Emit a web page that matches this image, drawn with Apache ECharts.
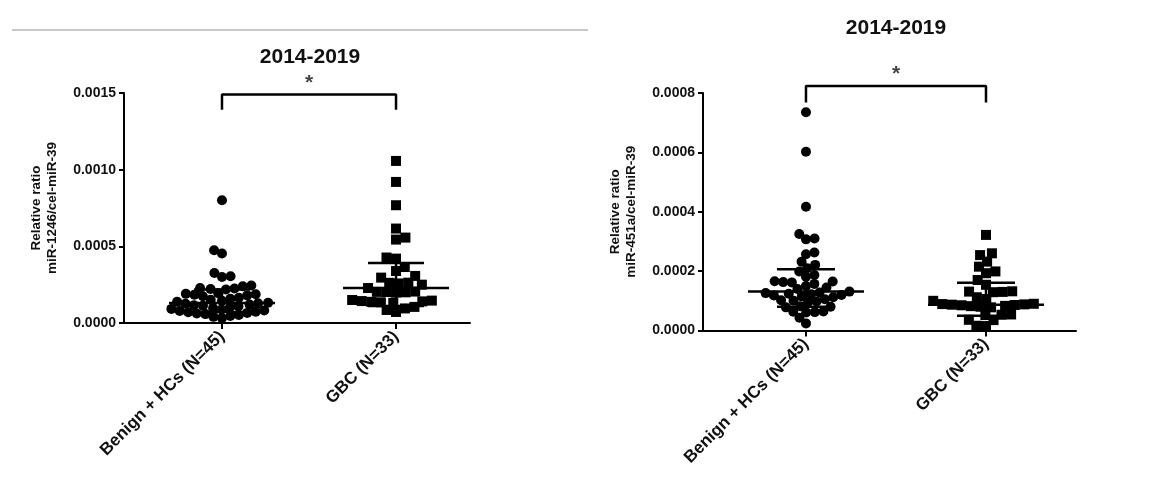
<!DOCTYPE html>
<html>
<head>
<meta charset="utf-8">
<script src="https://cdn.jsdelivr.net/npm/echarts@6/dist/echarts.min.js"></script>
<style>
html, body { margin: 0; padding: 0; background: #fff; }
#main { width: 1157px; height: 488px; }
</style>
</head>
<body>
<div id="main"></div>
<script>
var groups = ['Benign + HCs (N=45)', 'GBC (N=33)'];
var groupPos = [0, 1];

// miR-1246 (left panel)
var leftBenign = [
    0.00080, 0.000475, 0.000453, 0.000326, 0.000305, 0.000300,
    0.000245, 0.000240, 0.000228, 0.000225, 0.000222, 0.000218,
    0.000195, 0.000190, 0.000188, 0.000185, 0.000180, 0.000175,
    0.000165, 0.000158, 0.000152, 0.000145,
    0.000138, 0.000132, 0.000128,
    0.000125, 0.000120, 0.000115, 0.000112, 0.000108, 0.000102,
    0.000098, 0.000092, 0.000088, 0.000082, 0.000078, 0.000074,
    0.000070, 0.000066, 0.000062, 0.000058, 0.000052, 0.000046, 0.000040, 0.000032
];
var leftGbc = [
    0.001057, 0.000920, 0.000768, 0.000616, 0.000557, 0.000544,
    0.000427, 0.000420, 0.000365, 0.000339, 0.000307, 0.000296,
    0.000263, 0.000262, 0.000258, 0.000250, 0.000228,
    0.000205, 0.000203, 0.000202, 0.000200, 0.000198,
    0.000150, 0.000146, 0.000143, 0.000141, 0.000138, 0.000135, 0.000132,
    0.000105, 0.000095, 0.000085, 0.000072
];

// miR-451a (right panel)
var rightBenign = [
    0.000735, 0.000602, 0.000417, 0.000325, 0.000310, 0.000307,
    0.000263, 0.000257, 0.000232, 0.000221, 0.000210,
    0.000199, 0.000187, 0.000181,
    0.000166, 0.000165, 0.000163, 0.000162, 0.000157,
    0.000150, 0.000145, 0.000140, 0.000131,
    0.000128, 0.000126, 0.000124, 0.000122, 0.000120, 0.000118, 0.000115, 0.000112,
    0.000105, 0.000102, 0.000100, 0.000098, 0.000095,
    0.000082, 0.000080, 0.000078,
    0.000064, 0.000063, 0.000062, 0.000061,
    0.000043, 0.000024
];
var rightGbc = [
    0.000322, 0.000260, 0.000254, 0.000232, 0.000215, 0.000199, 0.000193, 0.000170,
    0.000154, 0.000132, 0.000131, 0.000130, 0.000129,
    0.000112, 0.000106, 0.000100, 0.000090,
    0.000089, 0.000088, 0.000087, 0.000086, 0.000085, 0.000083, 0.000082, 0.000080, 0.000078,
    0.000054, 0.000053, 0.000052,
    0.000036, 0.000035,
    0.000016, 0.000015
];

// median line and whiskers
var leftMid = [0.000130, 0.000228];
var leftLow = [0.000072, 0.000111];
var leftHigh = [0.000218, 0.000391];
var rightMid = [0.000131, 0.000087];
var rightLow = [0.000080, 0.000050];
var rightHigh = [0.000206, 0.000161];

// significance brackets: [top, leg bottom]
var leftBracket = [0.00149, 0.00139];
var rightBracket = [0.000824, 0.000768];

var leftYMax = 0.0015, leftYStep = 0.0005;
var rightYMax = 0.0008, rightYStep = 0.0002;

var FONT = 'Arial, "Liberation Sans", sans-serif';

var gridL = { left: 124, top: 93, width: 346, height: 230 };
var gridR = { left: 703, top: 93, width: 373, height: 237.5 };
var xRangeL = [-0.563, 1.425];
var xRangeR = [-0.572, 1.5];

// simple beeswarm, done in pixels so the marks do not pile up
function swarm(values, pxPerY, pxPerX, diam) {
    var order = values.map(function (v, i) { return i; })
        .sort(function (a, b) { return values[a] - values[b]; });
    var placed = [];
    var xs = [];
    order.forEach(function (i) {
        var y = values[i] * pxPerY;
        var cands = [0];
        placed.forEach(function (p) {
            var dy = Math.abs(p.y - y);
            if (dy < diam) {
                var dx = Math.sqrt(diam * diam - dy * dy);
                cands.push(p.x + dx, p.x - dx);
            }
        });
        var flip = placed.length % 2 ? 1 : -1;
        cands.sort(function (a, b) {
            return (Math.abs(a) - Math.abs(b)) || (a - b) * flip;
        });
        var best = 0;
        for (var k = 0; k < cands.length; k++) {
            var c = cands[k];
            var ok = placed.every(function (p) {
                var dx = p.x - c, dy = p.y - y;
                return dx * dx + dy * dy >= diam * diam - 0.01;
            });
            if (ok) { best = c; break; }
        }
        placed.push({ x: best, y: y });
        xs[i] = best / pxPerX;
    });
    return xs;
}

function points(values, groupIdx, grid, xRange, yMax, diam) {
    var pxPerX = grid.width / (xRange[1] - xRange[0]);
    var xs = swarm(values, grid.height / yMax, pxPerX, diam);
    return values.map(function (v, i) { return [groupPos[groupIdx] + xs[i], v]; });
}

function errorSeries(mid, low, high, ai, midHalf, capHalf) {
    return {
        type: 'custom',
        xAxisIndex: ai,
        yAxisIndex: ai,
        z: 5,
        silent: true,
        data: groups.map(function (g, i) { return [groupPos[i], low[i], mid[i], high[i]]; }),
        renderItem: function (params, api) {
            var x = api.value(0);
            var lo = api.coord([x, api.value(1)]);
            var md = api.coord([x, api.value(2)]);
            var hi = api.coord([x, api.value(3)]);
            var st = { stroke: '#000', lineWidth: 2.5 };
            return {
                type: 'group',
                children: [
                    { type: 'line', shape: { x1: lo[0], y1: lo[1], x2: hi[0], y2: hi[1] }, style: st },
                    { type: 'line', shape: { x1: md[0] - midHalf, y1: md[1], x2: md[0] + midHalf, y2: md[1] }, style: st },
                    { type: 'line', shape: { x1: hi[0] - capHalf, y1: hi[1], x2: hi[0] + capHalf, y2: hi[1] }, style: st },
                    { type: 'line', shape: { x1: lo[0] - capHalf, y1: lo[1], x2: lo[0] + capHalf, y2: lo[1] }, style: st }
                ]
            };
        }
    };
}

function bracketSeries(br, ai) {
    return [{
        type: 'line',
        xAxisIndex: ai,
        yAxisIndex: ai,
        clip: false,
        silent: true,
        symbol: 'none',
        lineStyle: { color: '#000', width: 2.5 },
        data: [[groupPos[0], br[1]], [groupPos[0], br[0]], [groupPos[1], br[0]], [groupPos[1], br[1]]]
    }, {
        type: 'scatter',
        xAxisIndex: ai,
        yAxisIndex: ai,
        clip: false,
        silent: true,
        symbolSize: 0,
        data: [[(groupPos[0] + groupPos[1]) / 2, br[0]]],
        label: {
            show: true, position: 'top', distance: 1, formatter: '*',
            fontFamily: FONT, fontWeight: 'bold', fontSize: 21, color: '#111'
        }
    }];
}

function xAxisFor(gi, range) {
    return {
        type: 'value',
        gridIndex: gi,
        min: range[0],
        max: range[1],
        axisLine: { onZero: false, lineStyle: { color: '#000', width: 2 } },
        axisTick: { show: true, customValues: groupPos, length: 6, lineStyle: { color: '#000', width: 2 } },
        axisLabel: {
            customValues: groupPos,
            rotate: 45, margin: 11, color: '#111',
            fontFamily: FONT, fontWeight: 'bold', fontSize: 17,
            formatter: function (v) { return groups[groupPos.indexOf(Math.round(v))]; }
        },
        splitLine: { show: false }
    };
}

function yAxisFor(gi, max, step, name) {
    return {
        type: 'value',
        gridIndex: gi,
        min: 0, max: max, interval: step,
        name: name,
        nameLocation: 'middle',
        nameGap: 64,
        nameTextStyle: {
            fontFamily: FONT, fontWeight: 'bold', fontSize: 13.5, color: '#111', lineHeight: 16
        },
        axisLine: { show: true, onZero: false, lineStyle: { color: '#000', width: 2 } },
        axisTick: { show: true, length: 5, lineStyle: { color: '#000', width: 2 } },
        axisLabel: {
            margin: 8, color: '#111',
            fontFamily: FONT, fontWeight: 'bold', fontSize: 14,
            formatter: function (v) { return v.toFixed(4); }
        },
        splitLine: { show: false }
    };
}

function dots(values, groupIdx, shape, ai, grid, range, yMax, diam) {
    return {
        type: 'scatter', xAxisIndex: ai, yAxisIndex: ai,
        symbol: shape, symbolSize: 10,
        itemStyle: { color: '#000', opacity: 1 },
        data: points(values, groupIdx, grid, range, yMax, diam)
    };
}

var chart = echarts.init(document.getElementById('main'));
var option = {
    animation: false,
    backgroundColor: '#fff',
    graphic: [
        { type: 'line', shape: { x1: 12, y1: 30, x2: 588, y2: 30 }, style: { stroke: '#c8c8c8', lineWidth: 2 } },
        { type: 'text', x: 310, y: 57, style: { text: '2014-2019', align: 'center', verticalAlign: 'middle', font: 'bold 21px ' + FONT, fill: '#111' } },
        { type: 'text', x: 896, y: 28, style: { text: '2014-2019', align: 'center', verticalAlign: 'middle', font: 'bold 21px ' + FONT, fill: '#111' } }
    ],
    grid: [gridL, gridR],
    xAxis: [xAxisFor(0, xRangeL), xAxisFor(1, xRangeR)],
    yAxis: [
        yAxisFor(0, leftYMax, leftYStep, 'Relative ratio\nmiR-1246/cel-miR-39'),
        yAxisFor(1, rightYMax, rightYStep, 'Relative ratio\nmiR-451a/cel-miR-39')
    ],
    series: [
        dots(leftBenign, 0, 'circle', 0, gridL, xRangeL, leftYMax, 8.6),
        dots(leftGbc, 1, 'rect', 0, gridL, xRangeL, leftYMax, 9.6),
        errorSeries(leftMid, leftLow, leftHigh, 0, 53, 28),
        dots(rightBenign, 0, 'circle', 1, gridR, xRangeR, rightYMax, 8.6),
        dots(rightGbc, 1, 'rect', 1, gridR, xRangeR, rightYMax, 9.6),
        errorSeries(rightMid, rightLow, rightHigh, 1, 58, 29)
    ].concat(bracketSeries(leftBracket, 0), bracketSeries(rightBracket, 1))
};
chart.setOption(option);
</script>
</body>
</html>
